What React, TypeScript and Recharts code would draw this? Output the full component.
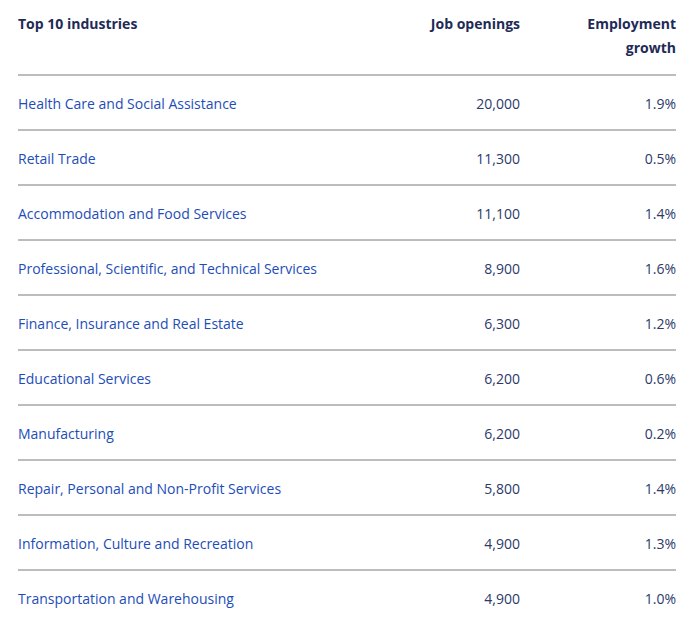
import React from 'react';
import { ComposedChart, XAxis, YAxis, ReferenceLine, Bar, Customized } from 'recharts';

const industries = [
  'Health Care and Social Assistance',
  'Retail Trade',
  'Accommodation and Food Services',
  'Professional, Scientific, and Technical Services',
  'Finance, Insurance and Real Estate',
  'Educational Services',
  'Manufacturing',
  'Repair, Personal and Non-Profit Services',
  'Information, Culture and Recreation',
  'Transportation and Warehousing',
];
const jobOpenings = [20000, 11300, 11100, 8900, 6300, 6200, 6200, 5800, 4900, 4900];
const employmentGrowth = [1.9, 0.5, 1.4, 1.6, 1.2, 0.6, 0.2, 1.4, 1.3, 1.0];
const headerIndustry = 'Top 10 industries';
const headerJobs = 'Job openings';
const headerGrowth = ['Employment', 'growth'];

const data = industries.map((industry, i) => ({
  industry,
  jobs: jobOpenings[i],
  growth: employmentGrowth[i],
}));

const W = 685;
const H = 629;
const M = { top: 75, right: 9, bottom: 4, left: 18 };
const FONT = '"Open Sans", sans-serif';
const FS = 14;
const BLUE = '#1d4db8';
const NAVY = '#2c3a6a';
const HEAD = '#1e2b57';
const LINE = '#7a7a7a';
const JOBS_COL_OFFSET = 156;
const MIRROR_AXIS_WIDTH = 60;

const fmtJobs = (i: number) => jobOpenings[i].toLocaleString('en-US');
const fmtGrowth = (i: number) => employmentGrowth[i].toFixed(1) + '%';

const makeTick = (anchor: 'start' | 'end', color: string, fmt: (i: number, v: any) => string) =>
  (props: any) => {
    const { x, y, payload, index } = props;
    return (
      <text x={x} y={y} dy="0.43em" textAnchor={anchor} fill={color} fontFamily={FONT} fontSize={FS}>
        {fmt(index, payload.value)}
      </text>
    );
  };

const Headers = () => (
  <g fontFamily={FONT} fontSize={FS} fontWeight={700} fill={HEAD}>
    <text x={M.left} y={M.top - 46}>{headerIndustry}</text>
    <text x={W - M.right - JOBS_COL_OFFSET} y={M.top - 46} textAnchor="end">{headerJobs}</text>
    <text x={W - M.right} y={M.top - 46} textAnchor="end">{headerGrowth[0]}</text>
    <text x={W - M.right} y={M.top - 22} textAnchor="end">{headerGrowth[1]}</text>
  </g>
);

export default function App() {
  return (
    <div style={{ position: 'absolute', left: 0, top: 0, width: W, height: H, background: '#fff' }}>
      <ComposedChart width={W} height={H} data={data} layout="vertical" margin={M} barCategoryGap={0}>
        <XAxis type="number" hide domain={[0, 'dataMax']} />
        <YAxis
          yAxisId="rows"
          type="category"
          dataKey="industry"
          mirror
          axisLine={false}
          tickLine={false}
          tickSize={0}
          tickMargin={0}
          interval={0}
          tick={makeTick('start', BLUE, (_i, v) => v)}
        />
        <YAxis
          yAxisId="jobs"
          type="category"
          dataKey="industry"
          orientation="right"
          mirror
          width={MIRROR_AXIS_WIDTH}
          axisLine={false}
          tickLine={false}
          tickSize={0}
          tickMargin={JOBS_COL_OFFSET - MIRROR_AXIS_WIDTH}
          interval={0}
          tick={makeTick('end', NAVY, (i) => fmtJobs(i))}
        />
        <YAxis
          yAxisId="growth"
          type="category"
          dataKey="industry"
          orientation="right"
          mirror
          width={MIRROR_AXIS_WIDTH}
          axisLine={false}
          tickLine={false}
          tickSize={0}
          tickMargin={0}
          interval={0}
          tick={makeTick('end', NAVY, (i) => fmtGrowth(i))}
        />
        <Bar yAxisId="rows" dataKey="jobs" fill="none" isAnimationActive={false} />
        {industries.map((ind) => (
          <ReferenceLine
            key={ind}
            yAxisId="rows"
            y={ind}
            position="start"
            stroke={LINE}
            strokeWidth={1}
            ifOverflow="visible"
          />
        ))}
        <Customized component={Headers} />
      </ComposedChart>
    </div>
  );
}
